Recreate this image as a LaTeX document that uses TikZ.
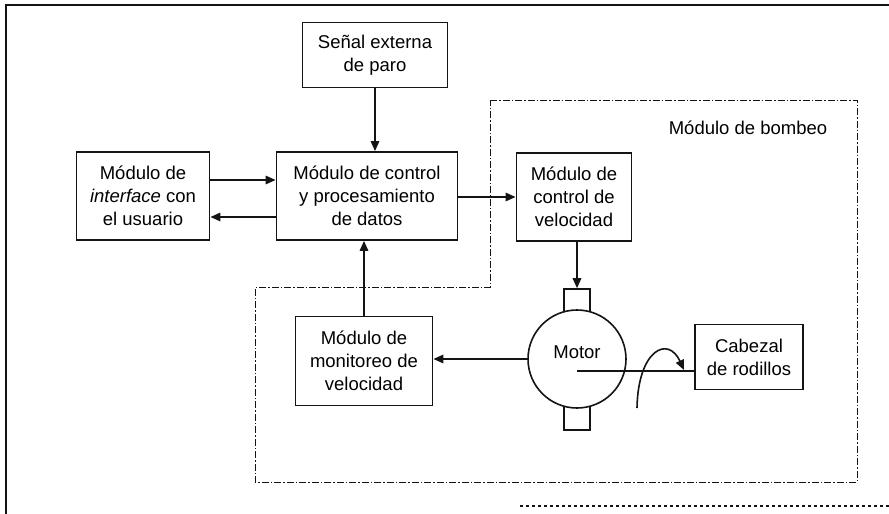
\documentclass[tikz,border=0pt]{standalone}
\usepackage{fontspec}
\setmainfont{Liberation Sans}
\usetikzlibrary{arrows.meta, positioning, calc}
\tikzset{every node/.append style={align=center}}
\definecolor{inkcol}{RGB}{20,20,20}

\begin{document}
\begin{tikzpicture}[x=1pt,y=-1pt,
    font=\fontsize{18.5}{23}\selectfont,
    modbox/.style={draw=inkcol, line width=1.8pt, inner sep=2pt},
    flow/.style={-{Triangle[length=10pt,width=8.5pt]}, inkcol, line width=1.6pt},
    tabbox/.style={draw=inkcol, line width=1.6pt, minimum width=26pt,
                   minimum height=26pt, inner sep=0pt},
    border/.style={inkcol, line width=0.9pt,
                   dash pattern=on 7pt off 2pt on 1.5pt off 2pt}]

\useasboundingbox (0,0) rectangle (889,514);

% ── Outer frame ──────────────────────────────────────────────────────────────
\draw[inkcol, line width=1.5pt] (889,5) -- (6,5) -- (6,514);
\draw[inkcol, line width=1.2pt, dashed] (520,506) -- (889,506);

% ── Pumping module boundary ──────────────────────────────────────────────────
\draw[border] (490,100) -- (857,100) -- (857,482) -- (255,482)
              -- (255,287) -- (490,287) -- cycle;
\node (bombeo) at (748,128) {Módulo de bombeo};

% ── Blocks ───────────────────────────────────────────────────────────────────
\node[modbox, minimum width=145pt, minimum height=65pt] (senal) at (375,55)
      {Señal externa\\de paro};
\node[modbox, minimum width=133pt, minimum height=88pt] (interfaz) at (143,196)
      {Módulo de\\\textit{interface} con\\el usuario};
\node[modbox, minimum width=181pt, minimum height=88pt] (control) at (367,196)
      {Módulo de control\\y procesamiento\\de datos};
\node[modbox, minimum width=115pt, minimum height=88pt] (velctrl) at (574,197)
      {Módulo de\\control de\\velocidad};
\node[modbox, minimum width=137pt, minimum height=89pt] (monitor) at (364,361)
      {Módulo de\\monitoreo de\\velocidad};
\node[modbox, minimum width=108pt, minimum height=65pt] (cabezal) at (749,357)
      {Cabezal\\de rodillos};

% Motor with its two tabs
\node[tabbox] (tabtop) at (577,302) {};
\node[tabbox] (tabbot) at (577,417) {};
\node[draw=inkcol, line width=1.6pt, fill=white, circle, minimum size=98pt,
      inner sep=0pt] (motor) at (577,359) {};
\node (motorlbl) at (577,352) {Motor};

% ── Connections ──────────────────────────────────────────────────────────────
\draw[flow] (senal.south) -- (senal.south |- control.north);
\draw[flow] ([yshift=16pt]interfaz.east) -- ([yshift=16pt]interfaz.east -| control.west);
\draw[flow] ([yshift=-21pt]control.west) -- ([yshift=-21pt]control.west -| interfaz.east);
\draw[flow] (control.east |- velctrl.west) -- (velctrl.west);
\draw[flow] (tabtop.north |- velctrl.south) -- (tabtop.north);
\draw[flow] (monitor.north) -- (monitor.north |- control.south);
\draw[flow] (motor.west) -- (motor.west -| monitor.east);

% Shaft and rotation
\coordinate (shaft) at (577,371);
\draw[inkcol, line width=1.6pt] (shaft) -- (shaft -| cabezal.west);
\coordinate (rotA) at (637,408);
\coordinate (rotB) at (684,370);
\draw[flow] (rotA) .. controls (638,350) and (668,335) .. (rotB);

\end{tikzpicture}
\end{document}
